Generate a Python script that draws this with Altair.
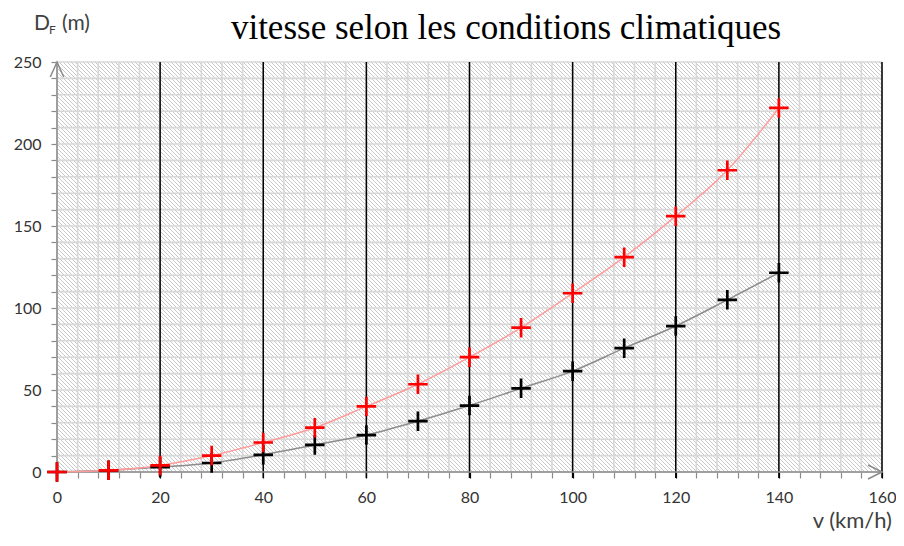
import math
import altair as alt
import pandas as pd

# ---------------- data ----------------
v_kmh = [0, 10, 20, 30, 40, 50, 60, 70, 80, 90, 100, 110, 120, 130, 140]
d_red = [0, 1, 4, 10, 18, 27, 40, 53.5, 70, 88, 109, 131, 156, 184, 222]
d_black = [0, 1, 3, 5.5, 10.5, 16.5, 22.5, 31, 40.5, 51, 61.5, 75.5, 89, 105, 121.5]

x_ticks = [0, 4, 8, 12, 16, 20, 24, 28, 32, 36, 40, 44, 48, 52, 56, 60, 64, 68, 72, 76, 80,
           84, 88, 92, 96, 100, 104, 108, 112, 116, 120, 124, 128, 132, 136, 140, 144, 148,
           152, 156, 160]
x_major = [20, 40, 60, 80, 100, 120, 140, 160]
y_ticks = [0, 10, 20, 30, 40, 50, 60, 70, 80, 90, 100, 110, 120, 130, 140, 150, 160, 170,
           180, 190, 200, 210, 220, 230, 240, 250]

title_text = "vitesse selon les conditions climatiques"
y_title_main = "D"
y_title_sub = "F"
y_title_unit = "(m)"
x_title = "v (km/h)"

# ---------------- layout ----------------
W, H = 825, 410
AXIS_GRAY = "#8a8a8a"
LABEL_FONT = "Lato"

xs = alt.Scale(domain=[0, 160], nice=False, zero=False)
ys = alt.Scale(domain=[0, 250], nice=False, zero=False)

x_axis = alt.Axis(
    values=x_ticks, title=None, grid=False, zindex=0, domain=False,
    labelExpr="datum.value % 20 === 0 ? datum.label : ''",
    labelFlush=False, labelOverlap=False,
    labelFont=LABEL_FONT, labelFontSize=16, labelColor="#333333", labelPadding=11,
    tickSize=6, tickWidth=1.2,
    tickColor={"condition": {"test": "datum.value % 20 === 0 && datum.value > 0", "value": "black"},
               "value": AXIS_GRAY},
)
y_axis = alt.Axis(
    values=y_ticks, title=None, grid=False, zindex=0, domain=False,
    labelExpr="datum.value % 50 === 0 ? datum.label : ''",
    labelFlush=False, labelOverlap=False,
    labelFont=LABEL_FONT, labelFontSize=16, labelColor="#333333", labelPadding=10,
    tickSize=6, tickWidth=1.2, tickColor=AXIS_GRAY,
)


def X(f):
    return alt.X(f, type="quantitative", scale=xs, axis=x_axis)


def Y(f):
    return alt.Y(f, type="quantitative", scale=ys, axis=y_axis)


# hatched background via a striped linear gradient (45 deg, 4 px horizontal period)
PERIOD = 4.0
NF = (W + H) / PERIOD
stops = []
for i in range(int(math.ceil(NF))):
    a = min(i / NF, 1.0)
    b = min((i + 0.25) / NF, 1.0)
    c = min((i + 1) / NF, 1.0)
    stops += [alt.GradientStop(offset=a, color="#c9c9c9"),
              alt.GradientStop(offset=b, color="#c9c9c9"),
              alt.GradientStop(offset=b, color="#ffffff"),
              alt.GradientStop(offset=c, color="#ffffff")]
hatch = alt.LinearGradient(gradient="linear", stops=stops,
                           x1=0, y1=1, x2=1.2, y2=1 - 1.2 * H / W)

one = pd.DataFrame({"k": [0]})
df = pd.DataFrame({"v": v_kmh, "red": d_red, "black": d_black})

bg = alt.Chart(one).mark_rect(fill=hatch).encode(
    x=alt.value(0), x2=alt.value(W), y=alt.value(0), y2=alt.value(H))

xgrid = alt.Chart(pd.DataFrame({"gx": x_ticks})).mark_rule(
    color="#d8d8d8", strokeWidth=1.6).encode(x=X("gx"))
ygrid = alt.Chart(pd.DataFrame({"gy": y_ticks})).mark_rule(
    color="#d8d8d8", strokeWidth=1.6).encode(y=Y("gy"))
major = alt.Chart(pd.DataFrame({"mx": x_major})).mark_rule(
    color="black", strokeWidth=1.5).encode(x=X("mx"), y=alt.value(0), y2=alt.value(H + 6))

# axis lines (drawn as rules so that the data marks sit on top of them)
y_line = alt.Chart(one).mark_rule(color=AXIS_GRAY, strokeWidth=1.5).encode(
    x=alt.value(0), y=alt.value(0), y2=alt.value(H))
x_line = alt.Chart(one).mark_rule(color=AXIS_GRAY, strokeWidth=1.5).encode(
    x=alt.value(0), x2=alt.value(W), y=alt.value(H))

plus = "M-1,0L1,0M0,-1L0,1"
black_line = alt.Chart(df).mark_line(color="#8c8c8c", strokeWidth=1.5, interpolate="monotone").encode(
    x=X("v"), y=Y("black"))
red_line = alt.Chart(df).mark_line(color="#ff9c9c", strokeWidth=1.5, interpolate="monotone").encode(
    x=X("v"), y=Y("red"))
black_pts = alt.Chart(df).mark_point(shape=plus, size=380, strokeWidth=2.7, stroke="black",
                                     filled=False, opacity=1).encode(x=X("v"), y=Y("black"))
red_pts = alt.Chart(df).mark_point(shape=plus, size=380, strokeWidth=2.7, stroke="#ff0000",
                                   filled=False, opacity=1).encode(x=X("v"), y=Y("red"))

arrow_y = alt.Chart(one).mark_point(shape="M-0.45,1L0,0L0.45,1", size=900, stroke=AXIS_GRAY,
                                    strokeWidth=1.5, filled=False, opacity=1).encode(
    x=alt.value(0), y=alt.value(0))
arrow_x = alt.Chart(one).mark_point(shape="M-1,-0.5L0,0L-1,0.5", size=784, stroke=AXIS_GRAY,
                                    strokeWidth=1.5, filled=False, opacity=1).encode(
    x=alt.value(W), y=alt.value(H))

title = alt.Chart(one).mark_text(text=title_text, font="Liberation Serif", fontSize=35,
                                 align="center", baseline="alphabetic", color="black").encode(
    x=alt.value(449), y=alt.value(-23))
t_d = alt.Chart(one).mark_text(text=y_title_main, font=LABEL_FONT, fontSize=21, align="left",
                               baseline="alphabetic", color="#404040").encode(
    x=alt.value(-23), y=alt.value(-32))
t_f = alt.Chart(one).mark_text(text=y_title_sub, font=LABEL_FONT, fontSize=12, align="left",
                               baseline="alphabetic", color="#404040").encode(
    x=alt.value(-8), y=alt.value(-28))
t_m = alt.Chart(one).mark_text(text=y_title_unit, font=LABEL_FONT, fontSize=21, align="left",
                               baseline="alphabetic", color="#404040").encode(
    x=alt.value(5), y=alt.value(-32))
t_x = alt.Chart(one).mark_text(text=x_title, font=LABEL_FONT, fontSize=22, align="right",
                               baseline="alphabetic", color="#404040").encode(
    x=alt.value(835), y=alt.value(466))

chart = alt.layer(
    bg, xgrid, ygrid, major, y_line, x_line, arrow_y, arrow_x,
    black_line, red_line, black_pts, red_pts,
    title, t_d, t_f, t_m, t_x
).properties(
    width=W, height=H,
    autosize=alt.AutoSizeParams(type="none"),
    padding={"left": 49, "top": 54, "right": 14, "bottom": 64},
    background="white",
).configure_view(strokeWidth=0)

chart.save("out.html", embed_options={"renderer": "svg", "actions": False})
